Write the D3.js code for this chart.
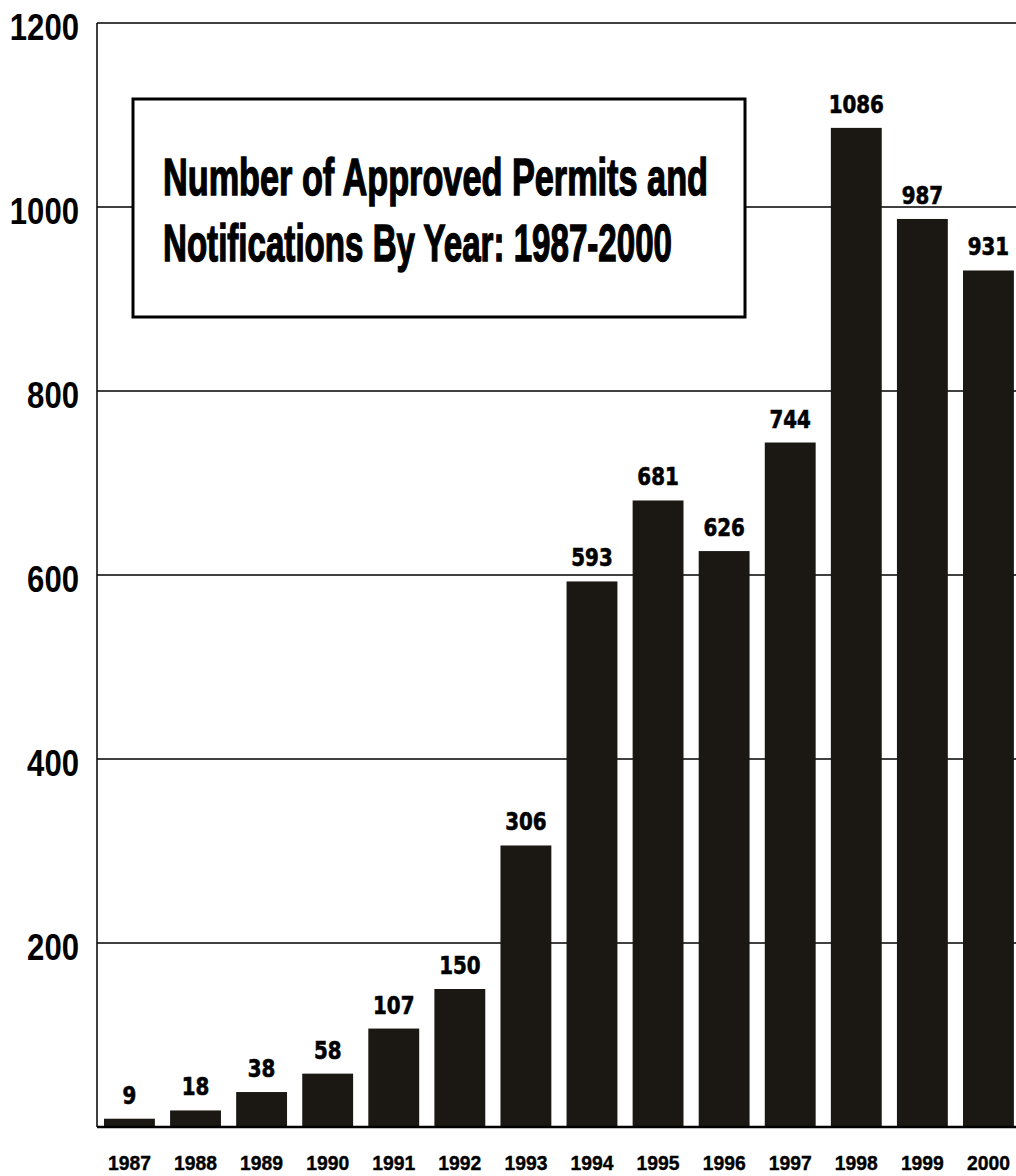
<!DOCTYPE html>
<html>
<head>
<meta charset="utf-8">
<script src="https://cdn.jsdelivr.net/npm/d3@7"></script>
<style>
  html, body { margin: 0; padding: 0; background: #fff; }
  svg { display: block; }
</style>
</head>
<body>
<svg id="chart" width="1016" height="1176"></svg>
<script>
// Approved permits and notifications per year
const years = ["1987","1988","1989","1990","1991","1992","1993","1994","1995","1996","1997","1998","1999","2000"];
const permits = [9, 18, 38, 58, 107, 150, 306, 593, 681, 626, 744, 1086, 987, 931];
const yTicks = [200, 400, 600, 800, 1000, 1200];
const titleLines = ["Number of Approved Permits and", "Notifications By Year: 1987-2000"];

const svg = d3.select("#chart");
const barColor = "#1b1814";
const axisFont = "'Liberation Sans Narrow', 'Liberation Sans', Arial, sans-serif";
const labelFont = "'DejaVu Sans Condensed', 'DejaVu Sans', sans-serif";

const x = d3.scaleBand()
  .domain(years)
  .range([97.4, 1020.5])
  .paddingInner(0.23)
  .paddingOuter(0.1);

const y = d3.scaleLinear()
  .domain([0, 1200])
  .range([1127, 23]);

const left = 97, right = 1016;

// horizontal gridlines (top one closes the frame)
svg.append("g")
  .selectAll("line")
  .data(yTicks)
  .join("line")
  .attr("x1", left).attr("x2", right)
  .attr("y1", d => y(d)).attr("y2", d => y(d))
  .attr("stroke", "#000").attr("stroke-width", 1.5);

// y tick labels, condensed to fit the left margin
svg.append("g")
  .selectAll("text")
  .data(yTicks)
  .join("text")
  .attr("x", 79)
  .attr("y", d => y(d) + 17)
  .attr("text-anchor", "end")
  .attr("font-family", axisFont)
  .attr("font-weight", "bold")
  .attr("font-size", 37)
  .attr("fill", "#000")
  .attr("textLength", d => String(d).length * 17.3)
  .attr("lengthAdjust", "spacingAndGlyphs")
  .text(d => d);

// bars
svg.append("g")
  .selectAll("rect")
  .data(permits)
  .join("rect")
  .attr("x", (d, i) => x(years[i]))
  .attr("width", x.bandwidth())
  .attr("y", d => y(d))
  .attr("height", d => y(0) - y(d))
  .attr("fill", barColor);

// value labels above bars
svg.append("g")
  .selectAll("text")
  .data(permits)
  .join("text")
  .attr("x", (d, i) => x(years[i]) + x.bandwidth() / 2)
  .attr("y", d => y(d) - 15)
  .attr("text-anchor", "middle")
  .attr("font-family", labelFont)
  .attr("font-weight", "bold")
  .attr("font-size", 24)
  .attr("fill", "#000")
  .attr("stroke", "#000")
  .attr("stroke-width", 0.6)
  .attr("textLength", d => String(d).length * 13.8)
  .attr("lengthAdjust", "spacingAndGlyphs")
  .text(d => d);

// axes lines
svg.append("line")
  .attr("x1", left).attr("x2", left)
  .attr("y1", y(1200)).attr("y2", y(0))
  .attr("stroke", "#000").attr("stroke-width", 1.5);
svg.append("line")
  .attr("x1", left).attr("x2", right)
  .attr("y1", y(0)).attr("y2", y(0))
  .attr("stroke", "#000").attr("stroke-width", 2.5);

// x tick labels
svg.append("g")
  .selectAll("text")
  .data(years)
  .join("text")
  .attr("x", d => x(d) + x.bandwidth() / 2)
  .attr("y", 1170)
  .attr("text-anchor", "middle")
  .attr("font-family", axisFont)
  .attr("font-weight", "bold")
  .attr("font-size", 21)
  .attr("fill", "#000")
  .attr("stroke", "#000")
  .attr("stroke-width", 0.4)
  .attr("textLength", 43)
  .attr("lengthAdjust", "spacingAndGlyphs")
  .text(d => d);

// title box
const box = svg.append("g");
box.append("rect")
  .attr("x", 133).attr("y", 99)
  .attr("width", 612).attr("height", 218)
  .attr("fill", "#fff")
  .attr("stroke", "#000").attr("stroke-width", 3);
box.selectAll("text")
  .data(titleLines)
  .join("text")
  .attr("x", 163)
  .attr("y", (d, i) => 195 + i * 66)
  .attr("font-family", axisFont)
  .attr("font-weight", "bold")
  .attr("font-size", 52)
  .attr("fill", "#000")
  .attr("stroke", "#000")
  .attr("stroke-width", 1.4)
  .attr("textLength", (d, i) => i === 0 ? 545 : 509)
  .attr("lengthAdjust", "spacingAndGlyphs")
  .text(d => d);
</script>
</body>
</html>
